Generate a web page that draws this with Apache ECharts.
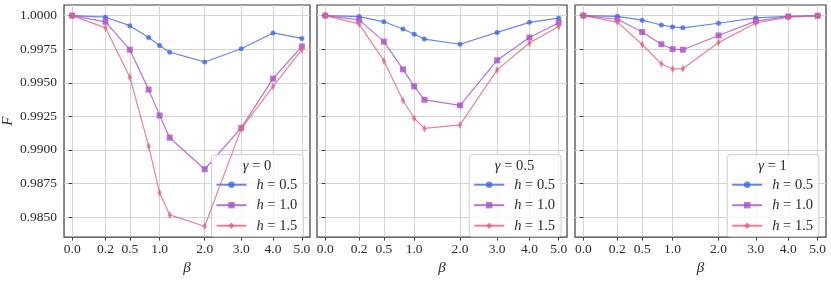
<!DOCTYPE html>
<html><head><meta charset="utf-8">
<script src="https://cdn.jsdelivr.net/npm/echarts@6/dist/echarts.min.js"></script>
<style>html,body{margin:0;padding:0;background:#fff}#c{width:831px;height:281px}</style>
</head><body><div id="c"></div>
<script>
// ---------- data ----------
const betaValues = [0, 0.2, 0.5, 0.8, 1.0, 1.2, 2.0, 3.0, 4.0, 5.0];
const xTickValues = [0, 0.2, 0.5, 1.0, 2.0, 3.0, 4.0, 5.0];
const xTickLabels = ['0.0', '0.2', '0.5', '1.0', '2.0', '3.0', '4.0', '5.0'];
const yTickValues = [0.985, 0.9875, 0.99, 0.9925, 0.995, 0.9975, 1.0];
const yTickLabels = ['0.9850', '0.9875', '0.9900', '0.9925', '0.9950', '0.9975', '1.0000'];
const gammaLabels = ['0', '0.5', '1'];
const hLabels = ['h = 0.5', 'h = 1.0', 'h = 1.5'];

// gamma = 0
const g0_h05 = [1.0000, 0.99988, 0.99925, 0.99837, 0.99777, 0.99727, 0.99655, 0.99753, 0.99871, 0.99830];
const g0_h10 = [1.0000, 0.99954, 0.99746, 0.99449, 0.99256, 0.99091, 0.98856, 0.99164, 0.99531, 0.99770];
const g0_h15 = [1.0000, 0.99909, 0.99541, 0.99028, 0.98681, 0.98516, 0.98432, 0.99157, 0.99473, 0.99746];
// gamma = 0.5
const g05_h05 = [1.0000, 0.99993, 0.99954, 0.99900, 0.99861, 0.99825, 0.99787, 0.99875, 0.99950, 0.99981];
const g05_h10 = [1.0000, 0.99968, 0.99806, 0.99600, 0.99473, 0.99373, 0.99332, 0.99667, 0.99837, 0.99947];
const g05_h15 = [1.0000, 0.99938, 0.99663, 0.99368, 0.99236, 0.99160, 0.99186, 0.99596, 0.99796, 0.99919];
// gamma = 1
const g1_h05 = [1.0000, 0.99995, 0.99966, 0.99930, 0.99916, 0.99909, 0.99943, 0.99983, 0.99995, 0.99999];
const g1_h10 = [1.0000, 0.99973, 0.99878, 0.99787, 0.99751, 0.99746, 0.99852, 0.99959, 0.99993, 0.99999];
const g1_h15 = [1.0000, 0.99952, 0.99785, 0.99641, 0.99602, 0.99605, 0.99799, 0.99945, 0.99988, 0.99997];

const panelData = [
  [g0_h05, g0_h10, g0_h15],
  [g05_h05, g05_h10, g05_h15],
  [g1_h05, g1_h10, g1_h15]
];

// ---------- styling ----------
const FONT = '"Liberation Serif", "DejaVu Serif", serif';
const colors = ['rgba(65,105,225,0.8)', 'rgba(168,80,200,0.8)', 'rgba(225,100,125,0.8)'];
const symbols = ['circle', 'rect', 'diamond'];
const symbolSizes = [5, 6, [4, 8]];
const POW = 0.6;
const tx = v => Math.pow(v, POW);
const xPad = 0.0934;

const grids = [
  {left: 60, top: 5, width: 250, height: 239},
  {left: 317, top: 5, width: 250, height: 239},
  {left: 575, top: 5, width: 251, height: 239}
];
const legendRight = [527.7, 270, 12];
const legendCenter = [257, 514.5, 772.5];

const xTickT = xTickValues.map(tx);
function xLabel(v) {
  for (let i = 0; i < xTickT.length; i++) if (Math.abs(xTickT[i] - v) < 1e-6) return xTickLabels[i];
  return '';
}
function yLabel(v) {
  for (let i = 0; i < yTickValues.length; i++) if (Math.abs(yTickValues[i] - v) < 1e-9) return yTickLabels[i];
  return '';
}

const option = {
  animation: false,
  backgroundColor: '#fff',
  grid: grids.map(g => Object.assign({show: true, borderColor: '#3c3c3c', borderWidth: 1.2, backgroundColor: 'transparent'}, g)),
  xAxis: grids.map((g, i) => ({
    type: 'value', gridIndex: i,
    min: -xPad, max: tx(5) + xPad,
    axisLine: {show: false},
    axisTick: {show: true, customValues: xTickT, length: 3.5, lineStyle: {color: '#3c3c3c', width: 1}},
    axisLabel: {show: true, customValues: xTickT, formatter: xLabel, fontFamily: FONT, fontSize: 13.5, color: '#2a2a2a', margin: 5},
    splitLine: {show: true, lineStyle: {color: '#d2d2d2', width: 1}},
    name: 'β', nameLocation: 'middle', nameGap: 18,
    nameTextStyle: {fontFamily: FONT, fontStyle: 'italic', fontSize: 15, color: '#2a2a2a'}
  })),
  yAxis: grids.map((g, i) => ({
    type: 'value', gridIndex: i,
    min: 0.98351, max: 1.00079,
    axisLine: {show: false},
    axisTick: {show: true, customValues: yTickValues, length: 3.5, lineStyle: {color: '#3c3c3c', width: 1}},
    axisLabel: {show: i === 0, customValues: yTickValues, formatter: yLabel, fontFamily: FONT, fontSize: 13.5, color: '#2a2a2a', margin: 7},
    splitLine: {show: true, lineStyle: {color: '#d2d2d2', width: 1}},
    name: i === 0 ? 'F' : '', nameLocation: 'middle', nameGap: 45,
    nameTextStyle: {fontFamily: FONT, fontStyle: 'italic', fontSize: 15, color: '#2a2a2a'}
  })),
  legend: gammaLabels.map((g, i) => ({
    orient: 'vertical', right: legendRight[i], bottom: 44.3,
    data: hLabels, selectedMode: false,
    itemWidth: 30, itemHeight: 8, itemGap: 4.5,
    padding: [22, 6, 3, 4],
    backgroundColor: 'rgba(255,255,255,0.8)', borderColor: '#cccccc', borderWidth: 1, borderRadius: 3,
    textStyle: {fontFamily: FONT, fontSize: 14.5, color: '#2a2a2a', lineHeight: 16, padding: [0, 0, 0, 5],
      rich: {i: {fontFamily: FONT, fontStyle: 'italic', fontSize: 14.5, lineHeight: 16}}},
    formatter: n => '{i|h}' + n.slice(1)
  })),
  graphic: gammaLabels.map((g, i) => ({
    type: 'text', x: legendCenter[i], y: 166.5, z: 100,
    style: {
      text: '{i|γ} = ' + g, textAlign: 'center', textVerticalAlign: 'middle',
      font: '14.5px ' + FONT, fill: '#2a2a2a',
      rich: {i: {fontStyle: 'italic', fontFamily: FONT, fontSize: 14.5}}
    }
  })),
  series: []
};

panelData.forEach((sets, p) => {
  sets.forEach((vals, k) => {
    option.series.push({
      type: 'line', name: hLabels[k], xAxisIndex: p, yAxisIndex: p,
      data: betaValues.map((b, j) => [tx(b), vals[j]]),
      symbol: symbols[k], symbolSize: symbolSizes[k], showSymbol: true,
      itemStyle: {color: colors[k]},
      lineStyle: {color: colors[k], width: 1.2},
      emphasis: {disabled: true}, z: 2 + k
    });
  });
});

const chart = echarts.init(document.getElementById('c'), null, {renderer: 'canvas'});
chart.setOption(option);
</script></body></html>
